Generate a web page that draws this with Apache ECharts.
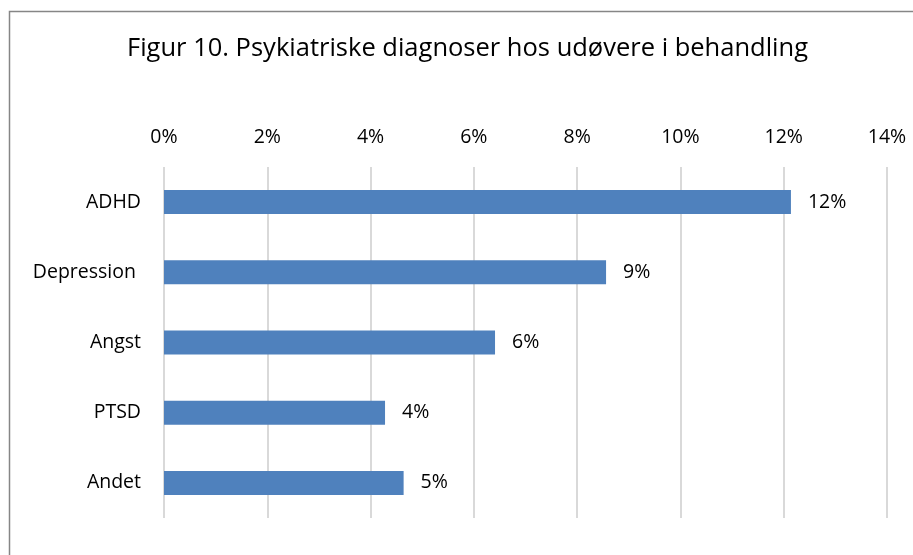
<!DOCTYPE html>
<html>
<head>
<meta charset="utf-8">
<script src="https://cdn.jsdelivr.net/npm/echarts@6/dist/echarts.min.js"></script>
<style>html,body{margin:0;padding:0;background:#fff}#c{width:913px;height:555px}</style>
</head>
<body>
<div id="c"></div>
<script>
const categories = ["ADHD", "Depression ", "Angst", "PTSD", "Andet"];
const values = [12.14, 8.56, 6.41, 4.28, 4.64];
const tickLabels = ["0%", "2%", "4%", "6%", "8%", "10%", "12%", "14%"];
const titleText = "Figur 10. Psykiatriske diagnoser hos udøvere i behandling";

const FONT = "Open Sans";
const chart = echarts.init(document.getElementById('c'), null, {renderer: 'canvas'});
chart.setOption({
  animation: false,
  backgroundColor: '#fff',
  title: {
    text: titleText,
    left: 127,
    top: 36,
    padding: 0,
    textStyle: {fontFamily: FONT, fontSize: 25.5, fontWeight: 'normal', color: '#000'}
  },
  graphic: [{
    type: 'rect',
    shape: {x: 9.5, y: 11.5, width: 1000, height: 1000},
    style: {fill: 'none', stroke: '#868686', lineWidth: 1.5},
    silent: true
  }],
  grid: {left: 164, right: 26, top: 167, bottom: 37, containLabel: false},
  xAxis: {
    type: 'value',
    position: 'top',
    min: 0, max: 14, interval: 2,
    axisLine: {show: false},
    axisTick: {show: false},
    axisLabel: {
      margin: 20,
      fontFamily: FONT, fontSize: 19.5, color: '#000',
      formatter: (v) => tickLabels[Math.round(v / 2)]
    },
    splitLine: {show: true, lineStyle: {color: '#d9d9d9', width: 2}}
  },
  yAxis: {
    type: 'category',
    inverse: true,
    data: categories,
    axisLine: {show: false},
    axisTick: {show: false},
    axisLabel: {margin: 23, fontFamily: FONT, fontSize: 19.5, color: '#000'},
    splitLine: {show: false}
  },
  series: [{
    type: 'bar',
    data: values,
    barWidth: 24,
    itemStyle: {color: '#4f81bd'},
    label: {
      show: true,
      position: 'right',
      distance: 17,
      fontFamily: FONT, fontSize: 19.5, color: '#000',
      formatter: (p) => Math.round(p.value) + '%'
    }
  }]
});
</script>
</body>
</html>
